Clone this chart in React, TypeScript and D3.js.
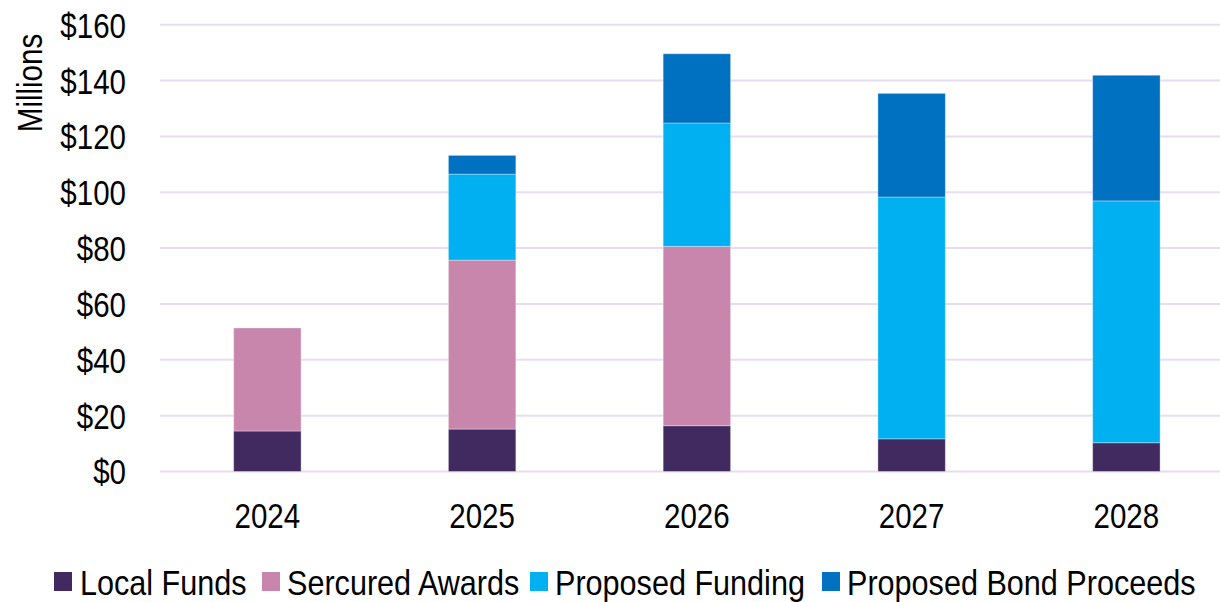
import React from "react";
import * as d3 from "d3";

const years = ["2024", "2025", "2026", "2027", "2028"];
const seriesNames = ["Local Funds", "Sercured Awards", "Proposed Funding", "Proposed Bond Proceeds"];
const localFunds = [14.5, 15.2, 16.4, 11.7, 10.3];
const securedAwards = [36.9, 60.5, 64.2, 0, 0];
const proposedFunding = [0, 30.8, 44.2, 86.6, 86.6];
const proposedBond = [0, 6.7, 24.8, 37.1, 45.0];
const yTicks = [0, 20, 40, 60, 80, 100, 120, 140, 160];
const colors = ["#412A5F", "#C886AD", "#00B0F0", "#0070C0"];

const W = 1220;
const H = 602;
const FONT = "'Liberation Sans', Arial, sans-serif";

function NText(props: { x: number; y: number; anchor?: string; dy?: string; rotate?: number; sx?: number; children: React.ReactNode }) {
  const { x, y, anchor = "start", dy, rotate = 0, sx = 0.82, children } = props;
  return (
    <g transform={`translate(${x},${y}) rotate(${rotate}) scale(${sx},1)`}>
      <text x={0} y={0} dy={dy} textAnchor={anchor} fontFamily={FONT} fontSize={36} fill="#000">
        {children}
      </text>
    </g>
  );
}

export default function App() {
  const x = d3.scaleBand<string>().domain(years).range([160, 1233.75]).paddingInner(0.686).paddingOuter(0.343);
  const y = d3.scaleLinear().domain([0, 160]).range([471.5, 24.7]);

  const rows = years.map((yr, i) => ({
    year: yr,
    s0: localFunds[i],
    s1: securedAwards[i],
    s2: proposedFunding[i],
    s3: proposedBond[i],
  }));
  const stack = d3.stack<any>().keys(["s0", "s1", "s2", "s3"]);
  const layers = stack(rows);

  const legendItems = [
    { marker: 54, text: 80 },
    { marker: 262, text: 287 },
    { marker: 530, text: 555 },
    { marker: 822, text: 847 },
  ];

  return (
    <div style={{ position: "fixed", left: 0, top: 0 }}>
      <svg width={W} height={H} style={{ display: "block", background: "#fff" }}>
        {yTicks.map((t) => (
          <line key={"g" + t} x1={160} x2={W} y1={y(t)} y2={y(t)} stroke="#E8DCF2" strokeWidth={2} />
        ))}
        {layers.map((layer, li) => (
          <g key={li} fill={colors[li]}>
            {layer.map((d, i) =>
              d[1] - d[0] > 0 ? (
                <rect
                  key={i}
                  x={x(years[i])}
                  width={x.bandwidth()}
                  y={y(d[1])}
                  height={y(d[0]) - y(d[1])}
                  stroke="rgba(255,255,255,0.35)"
                  strokeWidth={1}
                />
              ) : null
            )}
          </g>
        ))}
        {yTicks.map((t) => (
          <NText key={"t" + t} x={126} y={y(t)} dy="0.36em" anchor="end">
            {"$" + t}
          </NText>
        ))}
        {years.map((yr) => (
          <NText key={yr} x={(x(yr) as number) + x.bandwidth() / 2} y={528} anchor="middle">
            {yr}
          </NText>
        ))}
        <NText x={42} y={83} rotate={-90} anchor="middle">
          Millions
        </NText>
        {seriesNames.map((name, i) => (
          <g key={name}>
            <rect x={legendItems[i].marker} y={572} width={18} height={19} fill={colors[i]} />
            <NText x={legendItems[i].text} y={595} sx={0.85}>
              {name}
            </NText>
          </g>
        ))}
      </svg>
    </div>
  );
}
